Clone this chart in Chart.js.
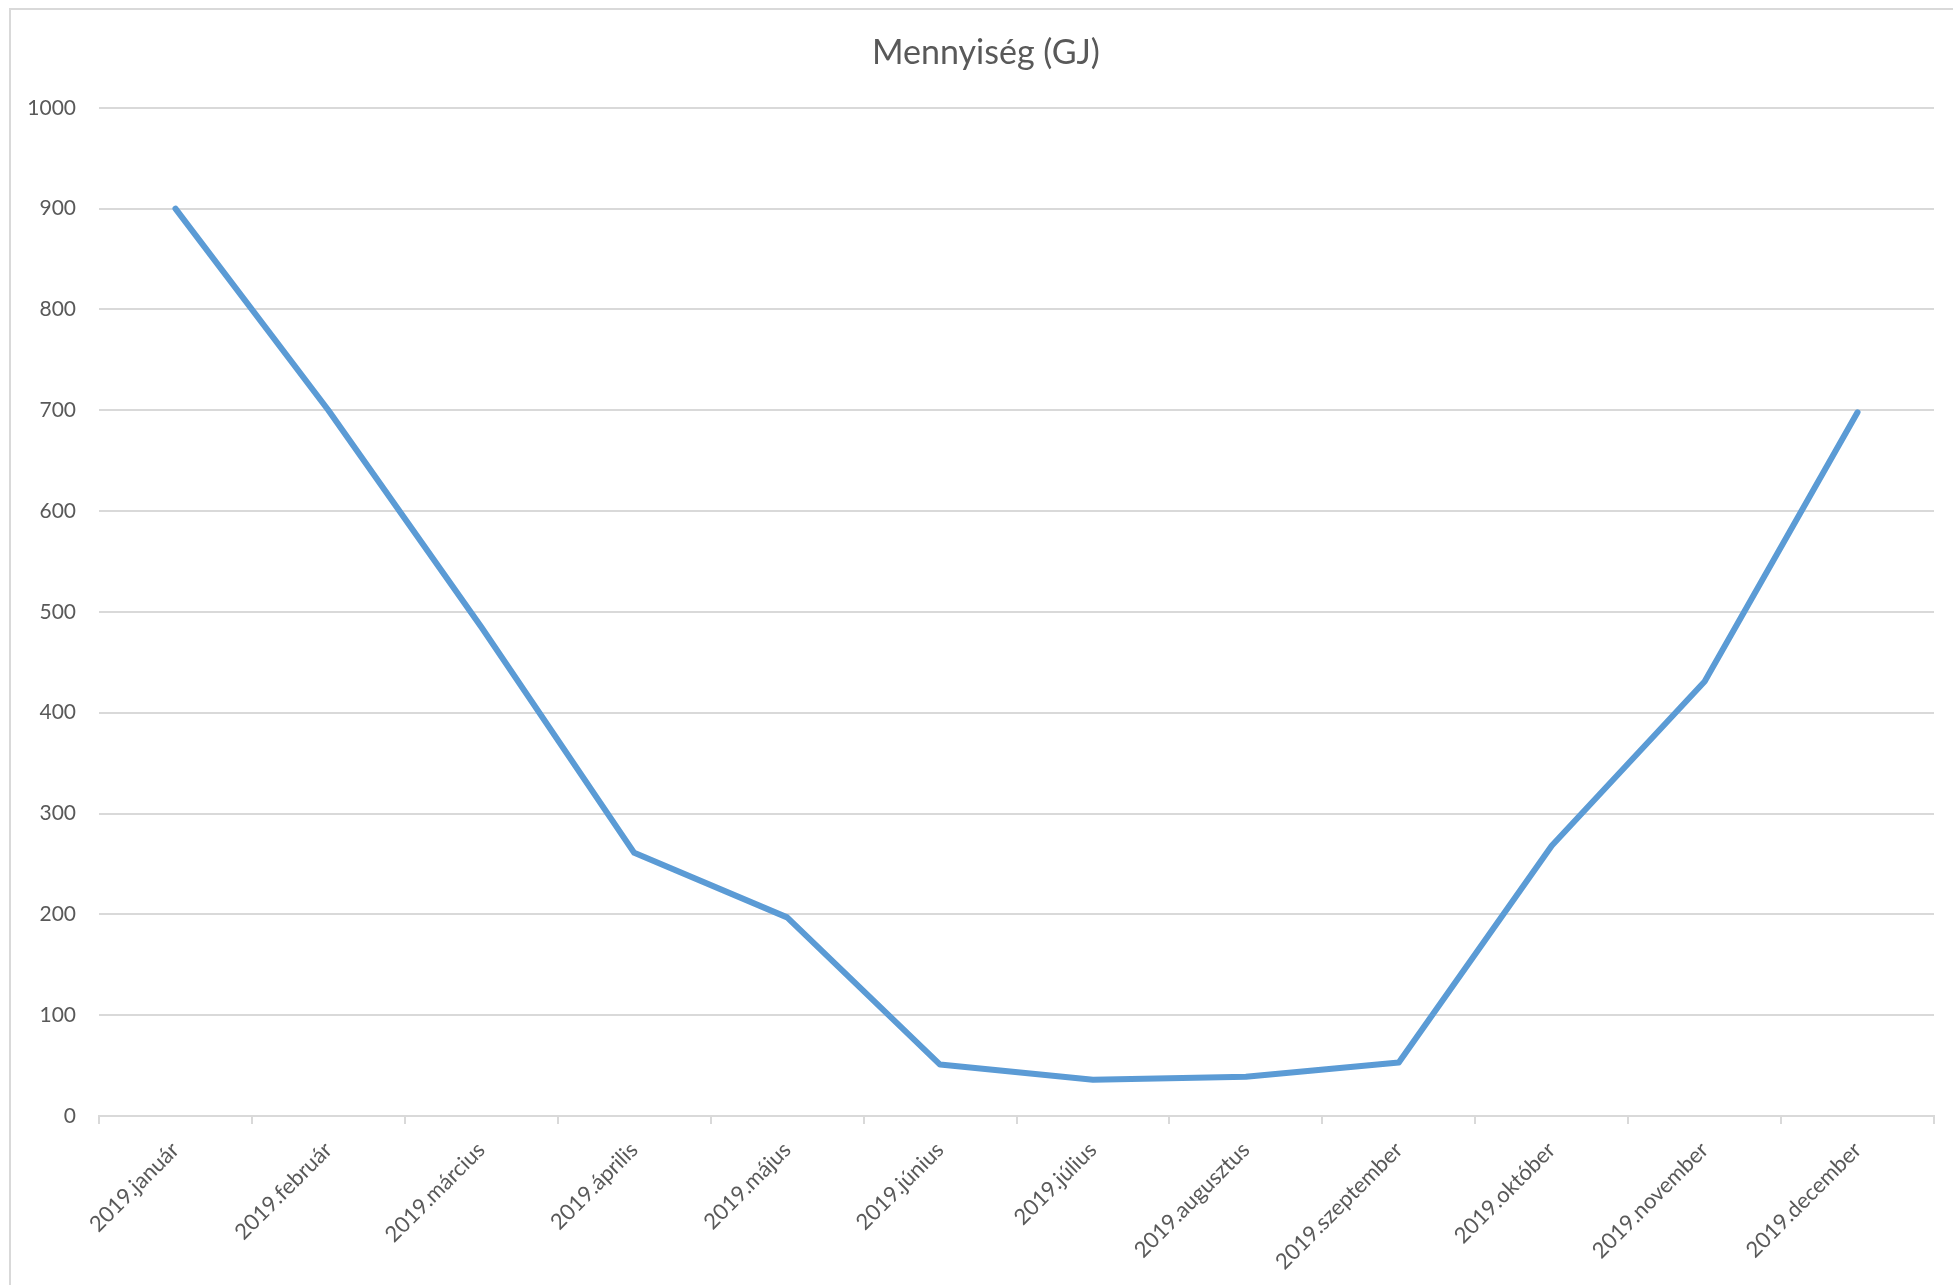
<!DOCTYPE html>
<html lang="hu">
<head>
<meta charset="utf-8">
<title>Mennyiség (GJ)</title>
<script src="https://cdn.jsdelivr.net/npm/chart.js@4"></script>
<style>
  html, body { margin: 0; padding: 0; background: #fff; overflow: hidden; }
  #wrap { position: absolute; left: 0; top: 0; width: 1953px; height: 1285px; }
</style>
</head>
<body>
<div id="wrap"><canvas id="chart"></canvas></div>
<script>
// values
const months = [
  '2019.január', '2019.február', '2019.március', '2019.április',
  '2019.május', '2019.június', '2019.július', '2019.augusztus',
  '2019.szeptember', '2019.október', '2019.november', '2019.december'
];
const quantityGJ = [900, 700, 485, 261, 197, 51, 36, 39, 53, 268, 431, 698];

const C = {
  line:  '#5b9bd5',
  grid:  '#d9d9d9',
  text:  '#595959',
};
const FONT = "Lato, 'Open Sans', sans-serif";

// outer chart frame (cut off at right and bottom like the screenshot),
// plus nudge the title so it is centred on the whole frame, not the canvas
const framePlugin = {
  id: 'frame',
  afterLayout(chart){
    if (chart.titleBlock) chart.titleBlock.left += 18;
  },
  beforeDraw(chart){
    const ctx = chart.ctx;
    ctx.save();
    ctx.strokeStyle = C.grid;
    ctx.lineWidth = 2;
    ctx.strokeRect(10, 9, 2000, 2000);
    ctx.restore();
  }
};

new Chart(document.getElementById('chart'), {
  type: 'line',
  data: {
    labels: months,
    datasets: [{
      label: 'Mennyiség (GJ)',
      data: quantityGJ,
      borderColor: C.line,
      borderWidth: 6,
      borderCapStyle: 'round',
      borderJoinStyle: 'round',
      pointRadius: 0,
      tension: 0,
      fill: false,
    }]
  },
  options: {
    responsive: true,
    maintainAspectRatio: false,
    animation: false,
    layout: { padding: { left: 20, right: 19, top: 0, bottom: 0 } },
    plugins: {
      legend: { display: false },
      tooltip: { enabled: false },
      title: {
        display: true,
        text: 'Mennyiség (GJ)',
        color: C.text,
        font: { family: FONT, size: 34, weight: 'normal', lineHeight: 1.2 },
        padding: { top: 33, bottom: 34 },
      },
    },
    scales: {
      x: {
        offset: true,
        afterFit(scale){ scale.height = 169; },
        grid: {
          offset: true,
          drawOnChartArea: false,
          drawTicks: true,
          tickLength: 8,
          color: C.grid,
          lineWidth: 2,
        },
        border: { display: true, color: C.grid, width: 2 },
        ticks: {
          autoSkip: false,
          minRotation: 45,
          maxRotation: 45,
          padding: 13,
          color: C.text,
          font: { family: FONT, size: 22 },
        },
      },
      y: {
        min: 0,
        max: 1000,
        afterFit(scale){ scale.width = 79; },
        grid: { color: C.grid, lineWidth: 2, drawTicks: false },
        border: { display: false },
        ticks: {
          stepSize: 100,
          padding: 23,
          color: C.text,
          font: { family: FONT, size: 21 },
          callback: v => String(v),
        },
      },
    },
  },
  plugins: [framePlugin],
});
</script>
</body>
</html>
